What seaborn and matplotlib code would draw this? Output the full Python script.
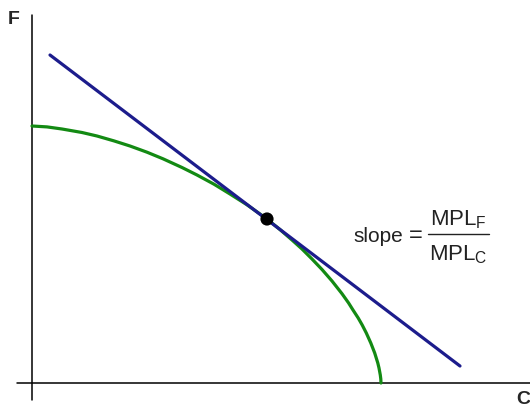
import matplotlib
matplotlib.use('Agg')
import matplotlib.pyplot as plt
import pandas as pd
import seaborn as sns

# Production possibilities frontier
# (origin where the axes cross, one unit = one pixel)
ppf_c = [0, 15, 30, 50, 65, 82, 98, 115, 131, 150, 165, 182, 198, 215, 235,
         248, 260, 270, 280, 290, 300, 310, 316.6, 321, 326.2, 330.2, 334.3,
         338.8, 342.7, 345.8, 347.0, 348.3, 348.8, 349]
ppf_f = [257, 256.1, 254, 250.5, 247, 242.1, 237, 230.8, 224.2, 215.5, 208,
         198.8, 189, 178.2, 164, 153.4, 143, 134, 124, 113.5, 102, 89.3, 80,
         73, 65, 58, 50, 40, 30, 20, 15, 8, 4, 0]

# Tangent line (relative price line)
line_c = [18, 428]
line_f = [328, 17]

# Tangency point
opt_c = [235]
opt_f = [164]

sns.set_style('white')
plt.rcParams['font.family'] = ['Liberation Sans', 'DejaVu Sans']
plt.rcParams['mathtext.fontset'] = 'custom'
plt.rcParams['mathtext.rm'] = 'Liberation Sans'
plt.rcParams['mathtext.it'] = 'Liberation Sans:italic'

fig = plt.figure(figsize=(5.3, 4.08), dpi=100)
ax = fig.add_axes([0, 0, 1, 1])
ax.set_xlim(-32, 498)
ax.set_ylim(-25, 383)
ax.axis('off')

# axes drawn by hand, crossing at the origin
ax.plot([0, 0], [-17, 368], color='black', lw=1.1)
ax.plot([-15, 498], [0, 0], color='black', lw=1.1)

ppf = pd.DataFrame({'C': ppf_c, 'F': ppf_f})
sns.lineplot(data=ppf, x='C', y='F', sort=False, color='#138a13', lw=2.3,
             solid_joinstyle='round', ax=ax)
tangent = pd.DataFrame({'C': line_c, 'F': line_f})
sns.lineplot(data=tangent, x='C', y='F', sort=False, color='#1c1c8c', lw=2.3,
             ax=ax)
sns.scatterplot(x=opt_c, y=opt_f, color='black', s=90, edgecolor='none',
                zorder=5, ax=ax)

ax.text(-18.5, 363, 'F', fontsize=14, fontweight='bold', ha='center',
        va='center')
ax.text(491, -17, 'C', fontsize=14, fontweight='bold', ha='center',
        va='center')

# slope = MPL_F / MPL_C
ax.text(321, 141, 'slope', fontsize=15, ha='left', va='baseline',
        color='#222222')
ax.text(384, 147, '=', fontsize=17, ha='center', va='center',
        color='#222222')
ax.text(426, 158, r'MPL$_\mathrm{F}$', fontsize=16, ha='center',
        va='baseline', color='#222222')
ax.text(426, 123, r'MPL$_\mathrm{C}$', fontsize=16, ha='center',
        va='baseline', color='#222222')
ax.plot([396, 457], [149, 149], color='#222222', lw=1.0)

ax.set_xlabel('')
ax.set_ylabel('')

fig.savefig('out.png', dpi=100)
